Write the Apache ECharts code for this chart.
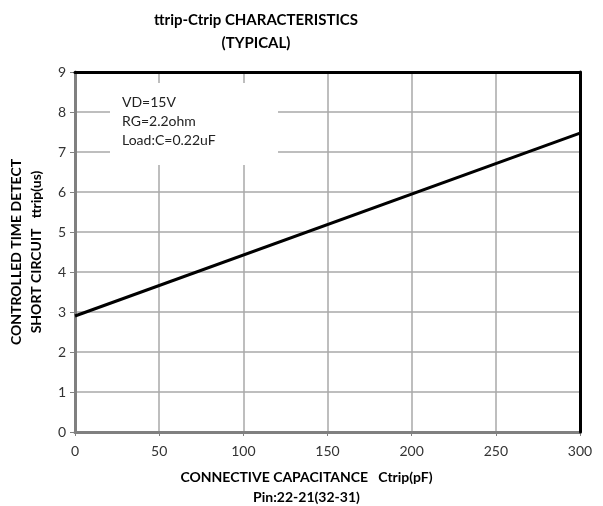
<!DOCTYPE html>
<html><head><meta charset="utf-8">
<script src="https://cdn.jsdelivr.net/npm/echarts@6/dist/echarts.min.js"></script>
<style>html,body{margin:0;padding:0;background:#fff}#c{width:603px;height:506px}</style>
</head><body><div id="c"></div>
<script>
const capacitance = [0, 300];
const ttrip = [2.9, 7.47];
const xTicks = [0, 50, 100, 150, 200, 250, 300];
const yTicks = [0, 1, 2, 3, 4, 5, 6, 7, 8, 9];
const titleLines = ['ttrip-Ctrip CHARACTERISTICS', '(TYPICAL)'];
const noteLines = ['VD=15V', 'RG=2.2ohm', 'Load:C=0.22uF'];
const xName = 'CONNECTIVE CAPACITANCE   Ctrip(pF)\nPin:22-21(32-31)';
const yName = 'CONTROLLED TIME DETECT\nSHORT CIRCUIT   ttrip(us)';
const FONT = 'Lato';

const chart = echarts.init(document.getElementById('c'), null, {renderer: 'canvas'});
chart.setOption({
  animation: false,
  backgroundColor: '#fff',
  grid: {left: 75, right: 23, top: 72, bottom: 74, outerBoundsMode: 'none', containLabel: false, show: false},
  graphic: [
    {type: 'text', x: 256, y: 20, z: 10, style: {text: titleLines[0], font: 'bold 15px ' + FONT, fill: '#000', align: 'center', verticalAlign: 'middle'}},
    {type: 'text', x: 256, y: 43, z: 10, style: {text: titleLines[1], font: 'bold 15px ' + FONT, fill: '#000', align: 'center', verticalAlign: 'middle'}},
    {type: 'rect', x: 110, y: 83, z: 1, shape: {width: 168, height: 82}, style: {fill: '#fff'}},
    {type: 'text', x: 122, y: 102, z: 10, style: {text: noteLines[0], font: '14px ' + FONT, fill: '#222', verticalAlign: 'middle'}},
    {type: 'text', x: 122, y: 121, z: 10, style: {text: noteLines[1], font: '14px ' + FONT, fill: '#222', verticalAlign: 'middle'}},
    {type: 'text', x: 122, y: 140, z: 10, style: {text: noteLines[2], font: '14px ' + FONT, fill: '#222', verticalAlign: 'middle'}}
  ],
  xAxis: [{
    type: 'value', min: 0, max: 300, interval: 50, position: 'bottom',
    name: xName, nameLocation: 'middle', nameGap: 35,
    nameTextStyle: {fontFamily: FONT, fontWeight: 'bold', fontSize: 14, color: '#000', lineHeight: 20, padding: [0, 42, 0, 0]},
    axisLine: {show: true, onZero: false, lineStyle: {color: '#808080', width: 3}},
    axisTick: {show: true, inside: false, length: 4, lineStyle: {color: '#808080', width: 1}},
    axisLabel: {fontFamily: FONT, fontSize: 14, color: '#333', margin: 12, formatter: v => xTicks.includes(v) ? String(v) : ''},
    splitLine: {show: true, lineStyle: {color: '#a8a8a8', width: 1.5}}
  }, {
    type: 'value', min: 0, max: 300, interval: 50, position: 'top', z: 6,
    axisLine: {show: true, onZero: false, lineStyle: {color: '#000', width: 3}},
    axisTick: {show: false}, axisLabel: {show: false}, splitLine: {show: false}
  }],
  yAxis: [{
    type: 'value', min: 0, max: 9, interval: 1, position: 'left',
    name: yName, nameLocation: 'middle', nameGap: 26, nameRotate: 90,
    nameTextStyle: {fontFamily: FONT, fontWeight: 'bold', fontSize: 14, color: '#000', lineHeight: 20},
    axisLine: {show: true, onZero: false, lineStyle: {color: '#808080', width: 3}},
    axisTick: {show: true, inside: false, length: 5, lineStyle: {color: '#808080', width: 1}},
    axisLabel: {fontFamily: FONT, fontSize: 14, color: '#333', margin: 9, formatter: v => yTicks.includes(v) ? String(v) : ''},
    splitLine: {show: true, lineStyle: {color: '#a8a8a8', width: 1.5}}
  }, {
    type: 'value', min: 0, max: 9, interval: 1, position: 'right', z: 6,
    axisLine: {show: true, onZero: false, lineStyle: {color: '#000', width: 3}},
    axisTick: {show: false}, axisLabel: {show: false}, splitLine: {show: false}
  }],
  series: [{
    type: 'line', z: 5, xAxisIndex: 0, yAxisIndex: 0,
    data: capacitance.map((c, i) => [c, ttrip[i]]),
    symbol: 'none',
    lineStyle: {color: '#000', width: 3}
  }]
});
</script></body></html>
